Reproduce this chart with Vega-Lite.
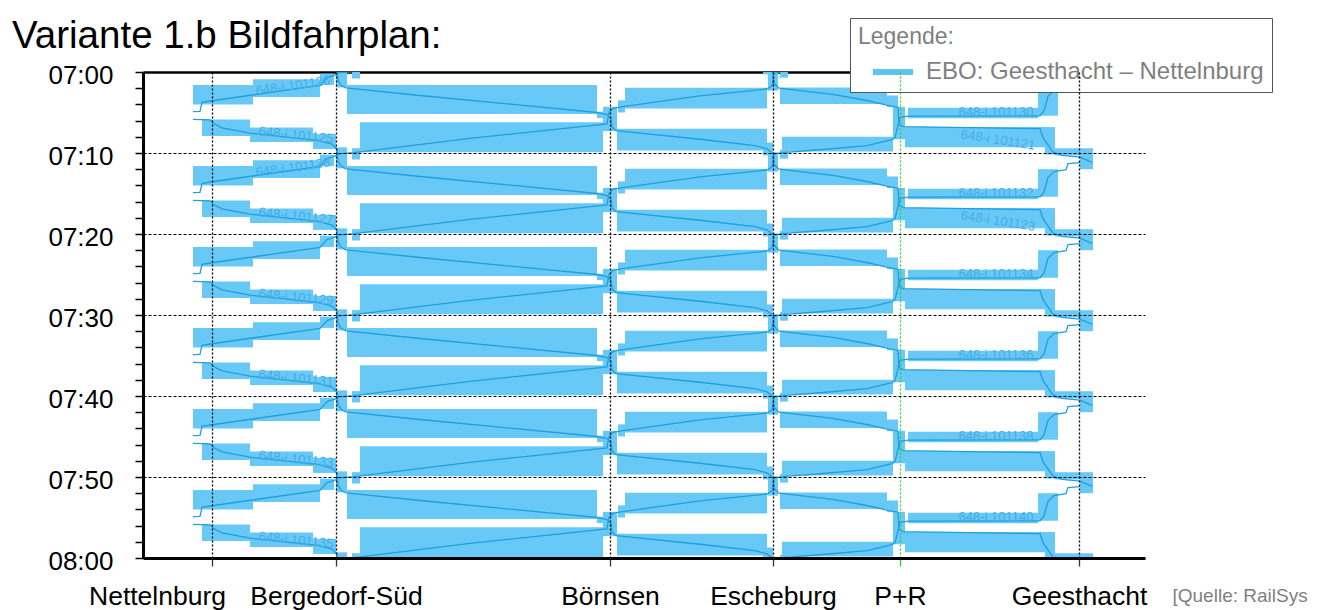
{
 "$schema": "https://vega.github.io/schema/vega-lite/v6.json",
 "width": 1002,
 "height": 486,
 "autosize": {"type": "none"},
 "padding": {"left": 143, "top": 72, "right": 175, "bottom": 52},
 "background": "white",
 "config": {"font": "Liberation Sans", "view": {"stroke": null}},
 "title": {"text": "Variante 1.b Bildfahrplan:", "anchor": "start", "frame": "group", "dx": -131, "fontSize": 38.5, "fontWeight": "normal", "color": "black", "font": "Liberation Sans", "baseline": "alphabetic", "offset": -69},
 "datasets": {
  "blocks": [
   {"x1":352,"x2":360,"t1":-0.6,"t2":0.8},{"x1":763,"x2":773,"t1":-1.3,"t2":0.3},{"x1":780,"x2":788,"t1":-0.4,"t2":0.7},{"x1":1045,"x2":1055,"t1":-3.2,"t2":0.2},{"x1":1055,"x2":1093,"t1":-0.6,"t2":0.3},

   {"x1":193,"x2":253,"t1":1.6,"t2":4.0},{"x1":253,"x2":320,"t1":0.9,"t2":3.1},{"x1":320,"x2":334,"t1":0.2,"t2":1.6},{"x1":202,"x2":250,"t1":5.85,"t2":7.9},{"x1":250,"x2":313,"t1":6.85,"t2":8.65},{"x1":313,"x2":336,"t1":7.65,"t2":9.5},{"x1":336,"x2":347,"t1":-0.7,"t2":1.9},
   {"x1":347,"x2":597,"t1":1.6,"t2":5.2},{"x1":597,"x2":607,"t1":4.9,"t2":5.7},{"x1":360,"x2":603,"t1":6.2,"t2":9.9},{"x1":352,"x2":360,"t1":9.4,"t2":10.8},{"x1":603,"x2":617,"t1":4.3,"t2":7.3},
   {"x1":625,"x2":767,"t1":1.95,"t2":4.5},{"x1":618,"x2":625,"t1":3.5,"t2":5.0},{"x1":617,"x2":767,"t1":7.0,"t2":9.7},{"x1":763,"x2":773,"t1":8.7,"t2":10.3},{"x1":768,"x2":778,"t1":-0.1,"t2":2.3},
   {"x1":780,"x2":887,"t1":1.9,"t2":3.95},{"x1":887,"x2":898,"t1":2.9,"t2":4.35},{"x1":782,"x2":893,"t1":8.0,"t2":9.8},{"x1":780,"x2":788,"t1":9.6,"t2":10.7},{"x1":893,"x2":905,"t1":4.3,"t2":8.3},
   {"x1":908,"x2":1038,"t1":4.4,"t2":5.7},{"x1":1038,"x2":1058,"t1":2.0,"t2":5.4},{"x1":905,"x2":1045,"t1":6.8,"t2":9.3},{"x1":1045,"x2":1055,"t1":6.8,"t2":10.2},{"x1":1055,"x2":1093,"t1":9.4,"t2":10.3},{"x1":1080,"x2":1093,"t1":-0.5,"t2":2.0},

   {"x1":193,"x2":253,"t1":11.6,"t2":14.0},{"x1":253,"x2":320,"t1":10.9,"t2":13.1},{"x1":320,"x2":334,"t1":10.2,"t2":11.6},{"x1":202,"x2":250,"t1":15.85,"t2":17.9},{"x1":250,"x2":313,"t1":16.85,"t2":18.65},{"x1":313,"x2":336,"t1":17.65,"t2":19.5},{"x1":336,"x2":347,"t1":9.3,"t2":11.9},
   {"x1":347,"x2":597,"t1":11.6,"t2":15.2},{"x1":597,"x2":607,"t1":14.9,"t2":15.7},{"x1":360,"x2":603,"t1":16.2,"t2":19.9},{"x1":352,"x2":360,"t1":19.4,"t2":20.8},{"x1":603,"x2":617,"t1":14.3,"t2":17.3},
   {"x1":625,"x2":767,"t1":11.95,"t2":14.5},{"x1":618,"x2":625,"t1":13.5,"t2":15.0},{"x1":617,"x2":767,"t1":17.0,"t2":19.7},{"x1":763,"x2":773,"t1":18.7,"t2":20.3},{"x1":768,"x2":778,"t1":9.9,"t2":12.3},
   {"x1":780,"x2":887,"t1":11.9,"t2":13.95},{"x1":887,"x2":898,"t1":12.9,"t2":14.35},{"x1":782,"x2":893,"t1":18.0,"t2":19.8},{"x1":780,"x2":788,"t1":19.6,"t2":20.7},{"x1":893,"x2":905,"t1":14.3,"t2":18.3},
   {"x1":908,"x2":1038,"t1":14.4,"t2":15.7},{"x1":1038,"x2":1058,"t1":12.0,"t2":15.4},{"x1":905,"x2":1045,"t1":16.8,"t2":19.3},{"x1":1045,"x2":1055,"t1":16.8,"t2":20.2},{"x1":1055,"x2":1093,"t1":19.4,"t2":20.3},{"x1":1080,"x2":1093,"t1":9.5,"t2":12.0},

   {"x1":193,"x2":253,"t1":21.6,"t2":24.0},{"x1":253,"x2":320,"t1":20.9,"t2":23.1},{"x1":320,"x2":334,"t1":20.2,"t2":21.6},{"x1":202,"x2":250,"t1":25.85,"t2":27.9},{"x1":250,"x2":313,"t1":26.85,"t2":28.65},{"x1":313,"x2":336,"t1":27.65,"t2":29.5},{"x1":336,"x2":347,"t1":19.3,"t2":21.9},
   {"x1":347,"x2":597,"t1":21.6,"t2":25.2},{"x1":597,"x2":607,"t1":24.9,"t2":25.7},{"x1":360,"x2":603,"t1":26.2,"t2":29.9},{"x1":352,"x2":360,"t1":29.4,"t2":30.8},{"x1":603,"x2":617,"t1":24.3,"t2":27.3},
   {"x1":625,"x2":767,"t1":21.95,"t2":24.5},{"x1":618,"x2":625,"t1":23.5,"t2":25.0},{"x1":617,"x2":767,"t1":27.0,"t2":29.7},{"x1":763,"x2":773,"t1":28.7,"t2":30.3},{"x1":768,"x2":778,"t1":19.9,"t2":22.3},
   {"x1":780,"x2":887,"t1":21.9,"t2":23.95},{"x1":887,"x2":898,"t1":22.9,"t2":24.35},{"x1":782,"x2":893,"t1":28.0,"t2":29.8},{"x1":780,"x2":788,"t1":29.6,"t2":30.7},{"x1":893,"x2":905,"t1":24.3,"t2":28.3},
   {"x1":908,"x2":1038,"t1":24.4,"t2":25.7},{"x1":1038,"x2":1058,"t1":22.0,"t2":25.4},{"x1":905,"x2":1045,"t1":26.8,"t2":29.3},{"x1":1045,"x2":1055,"t1":26.8,"t2":30.2},{"x1":1055,"x2":1093,"t1":29.4,"t2":30.3},{"x1":1080,"x2":1093,"t1":19.5,"t2":22.0},

   {"x1":193,"x2":253,"t1":31.6,"t2":34.0},{"x1":253,"x2":320,"t1":30.9,"t2":33.1},{"x1":320,"x2":334,"t1":30.2,"t2":31.6},{"x1":202,"x2":250,"t1":35.85,"t2":37.9},{"x1":250,"x2":313,"t1":36.85,"t2":38.65},{"x1":313,"x2":336,"t1":37.65,"t2":39.5},{"x1":336,"x2":347,"t1":29.3,"t2":31.9},
   {"x1":347,"x2":597,"t1":31.6,"t2":35.2},{"x1":597,"x2":607,"t1":34.9,"t2":35.7},{"x1":360,"x2":603,"t1":36.2,"t2":39.9},{"x1":352,"x2":360,"t1":39.4,"t2":40.8},{"x1":603,"x2":617,"t1":34.3,"t2":37.3},
   {"x1":625,"x2":767,"t1":31.95,"t2":34.5},{"x1":618,"x2":625,"t1":33.5,"t2":35.0},{"x1":617,"x2":767,"t1":37.0,"t2":39.7},{"x1":763,"x2":773,"t1":38.7,"t2":40.3},{"x1":768,"x2":778,"t1":29.9,"t2":32.3},
   {"x1":780,"x2":887,"t1":31.9,"t2":33.95},{"x1":887,"x2":898,"t1":32.9,"t2":34.35},{"x1":782,"x2":893,"t1":38.0,"t2":39.8},{"x1":780,"x2":788,"t1":39.6,"t2":40.7},{"x1":893,"x2":905,"t1":34.3,"t2":38.3},
   {"x1":908,"x2":1038,"t1":34.4,"t2":35.7},{"x1":1038,"x2":1058,"t1":32.0,"t2":35.4},{"x1":905,"x2":1045,"t1":36.8,"t2":39.3},{"x1":1045,"x2":1055,"t1":36.8,"t2":40.2},{"x1":1055,"x2":1093,"t1":39.4,"t2":40.3},{"x1":1080,"x2":1093,"t1":29.5,"t2":32.0},

   {"x1":193,"x2":253,"t1":41.6,"t2":44.0},{"x1":253,"x2":320,"t1":40.9,"t2":43.1},{"x1":320,"x2":334,"t1":40.2,"t2":41.6},{"x1":202,"x2":250,"t1":45.85,"t2":47.9},{"x1":250,"x2":313,"t1":46.85,"t2":48.65},{"x1":313,"x2":336,"t1":47.65,"t2":49.5},{"x1":336,"x2":347,"t1":39.3,"t2":41.9},
   {"x1":347,"x2":597,"t1":41.6,"t2":45.2},{"x1":597,"x2":607,"t1":44.9,"t2":45.7},{"x1":360,"x2":603,"t1":46.2,"t2":49.9},{"x1":352,"x2":360,"t1":49.4,"t2":50.8},{"x1":603,"x2":617,"t1":44.3,"t2":47.3},
   {"x1":625,"x2":767,"t1":41.95,"t2":44.5},{"x1":618,"x2":625,"t1":43.5,"t2":45.0},{"x1":617,"x2":767,"t1":47.0,"t2":49.7},{"x1":763,"x2":773,"t1":48.7,"t2":50.3},{"x1":768,"x2":778,"t1":39.9,"t2":42.3},
   {"x1":780,"x2":887,"t1":41.9,"t2":43.95},{"x1":887,"x2":898,"t1":42.9,"t2":44.35},{"x1":782,"x2":893,"t1":48.0,"t2":49.8},{"x1":780,"x2":788,"t1":49.6,"t2":50.7},{"x1":893,"x2":905,"t1":44.3,"t2":48.3},
   {"x1":908,"x2":1038,"t1":44.4,"t2":45.7},{"x1":1038,"x2":1058,"t1":42.0,"t2":45.4},{"x1":905,"x2":1045,"t1":46.8,"t2":49.3},{"x1":1045,"x2":1055,"t1":46.8,"t2":50.2},{"x1":1055,"x2":1093,"t1":49.4,"t2":50.3},{"x1":1080,"x2":1093,"t1":39.5,"t2":42.0},

   {"x1":193,"x2":253,"t1":51.6,"t2":54.0},{"x1":253,"x2":320,"t1":50.9,"t2":53.1},{"x1":320,"x2":334,"t1":50.2,"t2":51.6},{"x1":202,"x2":250,"t1":55.85,"t2":57.9},{"x1":250,"x2":313,"t1":56.85,"t2":58.65},{"x1":313,"x2":336,"t1":57.65,"t2":59.5},{"x1":336,"x2":347,"t1":49.3,"t2":51.9},
   {"x1":347,"x2":597,"t1":51.6,"t2":55.2},{"x1":597,"x2":607,"t1":54.9,"t2":55.7},{"x1":360,"x2":603,"t1":56.2,"t2":59.9},{"x1":352,"x2":360,"t1":59.4,"t2":60.8},{"x1":603,"x2":617,"t1":54.3,"t2":57.3},
   {"x1":625,"x2":767,"t1":51.95,"t2":54.5},{"x1":618,"x2":625,"t1":53.5,"t2":55.0},{"x1":617,"x2":767,"t1":57.0,"t2":59.7},{"x1":763,"x2":773,"t1":58.7,"t2":60.3},{"x1":768,"x2":778,"t1":49.9,"t2":52.3},
   {"x1":780,"x2":887,"t1":51.9,"t2":53.95},{"x1":887,"x2":898,"t1":52.9,"t2":54.35},{"x1":782,"x2":893,"t1":58.0,"t2":59.8},{"x1":780,"x2":788,"t1":59.6,"t2":60.7},{"x1":893,"x2":905,"t1":54.3,"t2":58.3},
   {"x1":908,"x2":1038,"t1":54.4,"t2":55.7},{"x1":1038,"x2":1058,"t1":52.0,"t2":55.4},{"x1":905,"x2":1045,"t1":56.8,"t2":59.3},{"x1":1045,"x2":1055,"t1":56.8,"t2":60.2},{"x1":1055,"x2":1093,"t1":59.4,"t2":60.3},{"x1":1080,"x2":1093,"t1":49.5,"t2":52.0},

   {"x1":336,"x2":347,"t1":59.3,"t2":61.9},{"x1":768,"x2":778,"t1":59.9,"t2":62.3},{"x1":1080,"x2":1093,"t1":59.5,"t2":62.0}
  ],
  "paths": [
   {"id":"E-30","x":1043,"t":-1.9},{"id":"E-30","x":1053,"t":-0.1},{"id":"E-30","x":1062,"t":0.3},{"id":"E-30","x":1080,"t":0.5},{"id":"E-30","x":1092,"t":1.15},

   {"id":"E-20","x":767,"t":-0.5},{"id":"E-20","x":773,"t":0.1},{"id":"E-20","x":774,"t":1.4},{"id":"E-20","x":779,"t":2.0},{"id":"E-20","x":833,"t":2.75},{"id":"E-20","x":868,"t":3.55},{"id":"E-20","x":889,"t":4.15},{"id":"E-20","x":898,"t":4.35},{"id":"E-20","x":899,"t":6.5},{"id":"E-20","x":903,"t":6.75},{"id":"E-20","x":1040,"t":7.0},{"id":"E-20","x":1043,"t":8.1},{"id":"E-20","x":1053,"t":9.9},{"id":"E-20","x":1062,"t":10.3},{"id":"E-20","x":1080,"t":10.5},{"id":"E-20","x":1092,"t":11.15},

   {"id":"E-10","x":337,"t":-0.45},{"id":"E-10","x":338,"t":1.0},{"id":"E-10","x":341,"t":1.65},{"id":"E-10","x":346,"t":1.95},{"id":"E-10","x":420,"t":2.9},{"id":"E-10","x":597,"t":5.0},{"id":"E-10","x":607,"t":5.25},{"id":"E-10","x":611,"t":5.7},{"id":"E-10","x":612,"t":6.8},{"id":"E-10","x":616,"t":7.25},{"id":"E-10","x":700,"t":8.3},{"id":"E-10","x":755,"t":9.1},{"id":"E-10","x":767,"t":9.5},{"id":"E-10","x":773,"t":10.1},{"id":"E-10","x":774,"t":11.4},{"id":"E-10","x":779,"t":12.0},{"id":"E-10","x":833,"t":12.75},{"id":"E-10","x":868,"t":13.55},{"id":"E-10","x":889,"t":14.15},{"id":"E-10","x":898,"t":14.35},{"id":"E-10","x":899,"t":16.5},{"id":"E-10","x":903,"t":16.75},{"id":"E-10","x":1040,"t":17.0},{"id":"E-10","x":1043,"t":18.1},{"id":"E-10","x":1053,"t":19.9},{"id":"E-10","x":1062,"t":20.3},{"id":"E-10","x":1080,"t":20.5},{"id":"E-10","x":1092,"t":21.15},

   {"id":"E0","x":193,"t":5.85},{"id":"E0","x":210,"t":5.9},{"id":"E0","x":214,"t":6.4},{"id":"E0","x":222,"t":6.9},{"id":"E0","x":250,"t":7.55},{"id":"E0","x":318,"t":8.45},{"id":"E0","x":332,"t":8.9},{"id":"E0","x":337,"t":9.55},{"id":"E0","x":338,"t":11.0},{"id":"E0","x":341,"t":11.65},{"id":"E0","x":346,"t":11.95},{"id":"E0","x":420,"t":12.9},{"id":"E0","x":597,"t":15.0},{"id":"E0","x":607,"t":15.25},{"id":"E0","x":611,"t":15.7},{"id":"E0","x":612,"t":16.8},{"id":"E0","x":616,"t":17.25},{"id":"E0","x":700,"t":18.3},{"id":"E0","x":755,"t":19.1},{"id":"E0","x":767,"t":19.5},{"id":"E0","x":773,"t":20.1},{"id":"E0","x":774,"t":21.4},{"id":"E0","x":779,"t":22.0},{"id":"E0","x":833,"t":22.75},{"id":"E0","x":868,"t":23.55},{"id":"E0","x":889,"t":24.15},{"id":"E0","x":898,"t":24.35},{"id":"E0","x":899,"t":26.5},{"id":"E0","x":903,"t":26.75},{"id":"E0","x":1040,"t":27.0},{"id":"E0","x":1043,"t":28.1},{"id":"E0","x":1053,"t":29.9},{"id":"E0","x":1062,"t":30.3},{"id":"E0","x":1080,"t":30.5},{"id":"E0","x":1092,"t":31.15},

   {"id":"E10","x":193,"t":15.85},{"id":"E10","x":210,"t":15.9},{"id":"E10","x":214,"t":16.4},{"id":"E10","x":222,"t":16.9},{"id":"E10","x":250,"t":17.55},{"id":"E10","x":318,"t":18.45},{"id":"E10","x":332,"t":18.9},{"id":"E10","x":337,"t":19.55},{"id":"E10","x":338,"t":21.0},{"id":"E10","x":341,"t":21.65},{"id":"E10","x":346,"t":21.95},{"id":"E10","x":420,"t":22.9},{"id":"E10","x":597,"t":25.0},{"id":"E10","x":607,"t":25.25},{"id":"E10","x":611,"t":25.7},{"id":"E10","x":612,"t":26.8},{"id":"E10","x":616,"t":27.25},{"id":"E10","x":700,"t":28.3},{"id":"E10","x":755,"t":29.1},{"id":"E10","x":767,"t":29.5},{"id":"E10","x":773,"t":30.1},{"id":"E10","x":774,"t":31.4},{"id":"E10","x":779,"t":32.0},{"id":"E10","x":833,"t":32.75},{"id":"E10","x":868,"t":33.55},{"id":"E10","x":889,"t":34.15},{"id":"E10","x":898,"t":34.35},{"id":"E10","x":899,"t":36.5},{"id":"E10","x":903,"t":36.75},{"id":"E10","x":1040,"t":37.0},{"id":"E10","x":1043,"t":38.1},{"id":"E10","x":1053,"t":39.9},{"id":"E10","x":1062,"t":40.3},{"id":"E10","x":1080,"t":40.5},{"id":"E10","x":1092,"t":41.15},

   {"id":"E20","x":193,"t":25.85},{"id":"E20","x":210,"t":25.9},{"id":"E20","x":214,"t":26.4},{"id":"E20","x":222,"t":26.9},{"id":"E20","x":250,"t":27.55},{"id":"E20","x":318,"t":28.45},{"id":"E20","x":332,"t":28.9},{"id":"E20","x":337,"t":29.55},{"id":"E20","x":338,"t":31.0},{"id":"E20","x":341,"t":31.65},{"id":"E20","x":346,"t":31.95},{"id":"E20","x":420,"t":32.9},{"id":"E20","x":597,"t":35.0},{"id":"E20","x":607,"t":35.25},{"id":"E20","x":611,"t":35.7},{"id":"E20","x":612,"t":36.8},{"id":"E20","x":616,"t":37.25},{"id":"E20","x":700,"t":38.3},{"id":"E20","x":755,"t":39.1},{"id":"E20","x":767,"t":39.5},{"id":"E20","x":773,"t":40.1},{"id":"E20","x":774,"t":41.4},{"id":"E20","x":779,"t":42.0},{"id":"E20","x":833,"t":42.75},{"id":"E20","x":868,"t":43.55},{"id":"E20","x":889,"t":44.15},{"id":"E20","x":898,"t":44.35},{"id":"E20","x":899,"t":46.5},{"id":"E20","x":903,"t":46.75},{"id":"E20","x":1040,"t":47.0},{"id":"E20","x":1043,"t":48.1},{"id":"E20","x":1053,"t":49.9},{"id":"E20","x":1062,"t":50.3},{"id":"E20","x":1080,"t":50.5},{"id":"E20","x":1092,"t":51.15},

   {"id":"E30","x":193,"t":35.85},{"id":"E30","x":210,"t":35.9},{"id":"E30","x":214,"t":36.4},{"id":"E30","x":222,"t":36.9},{"id":"E30","x":250,"t":37.55},{"id":"E30","x":318,"t":38.45},{"id":"E30","x":332,"t":38.9},{"id":"E30","x":337,"t":39.55},{"id":"E30","x":338,"t":41.0},{"id":"E30","x":341,"t":41.65},{"id":"E30","x":346,"t":41.95},{"id":"E30","x":420,"t":42.9},{"id":"E30","x":597,"t":45.0},{"id":"E30","x":607,"t":45.25},{"id":"E30","x":611,"t":45.7},{"id":"E30","x":612,"t":46.8},{"id":"E30","x":616,"t":47.25},{"id":"E30","x":700,"t":48.3},{"id":"E30","x":755,"t":49.1},{"id":"E30","x":767,"t":49.5},{"id":"E30","x":773,"t":50.1},{"id":"E30","x":774,"t":51.4},{"id":"E30","x":779,"t":52.0},{"id":"E30","x":833,"t":52.75},{"id":"E30","x":868,"t":53.55},{"id":"E30","x":889,"t":54.15},{"id":"E30","x":898,"t":54.35},{"id":"E30","x":899,"t":56.5},{"id":"E30","x":903,"t":56.75},{"id":"E30","x":1040,"t":57.0},{"id":"E30","x":1043,"t":58.1},{"id":"E30","x":1053,"t":59.9},{"id":"E30","x":1062,"t":60.3},

   {"id":"E40","x":193,"t":45.85},{"id":"E40","x":210,"t":45.9},{"id":"E40","x":214,"t":46.4},{"id":"E40","x":222,"t":46.9},{"id":"E40","x":250,"t":47.55},{"id":"E40","x":318,"t":48.45},{"id":"E40","x":332,"t":48.9},{"id":"E40","x":337,"t":49.55},{"id":"E40","x":338,"t":51.0},{"id":"E40","x":341,"t":51.65},{"id":"E40","x":346,"t":51.95},{"id":"E40","x":420,"t":52.9},{"id":"E40","x":597,"t":55.0},{"id":"E40","x":607,"t":55.25},{"id":"E40","x":611,"t":55.7},{"id":"E40","x":612,"t":56.8},{"id":"E40","x":616,"t":57.25},{"id":"E40","x":700,"t":58.3},{"id":"E40","x":755,"t":59.1},{"id":"E40","x":767,"t":59.5},{"id":"E40","x":773,"t":60.1},

   {"id":"E50","x":193,"t":55.85},{"id":"E50","x":210,"t":55.9},{"id":"E50","x":214,"t":56.4},{"id":"E50","x":222,"t":56.9},{"id":"E50","x":250,"t":57.55},{"id":"E50","x":318,"t":58.45},{"id":"E50","x":332,"t":58.9},{"id":"E50","x":337,"t":59.55},{"id":"E50","x":338,"t":61.0},

   {"id":"W-50","x":354,"t":-0.05},{"id":"W-50","x":338,"t":0.1},{"id":"W-50","x":335,"t":0.4},{"id":"W-50","x":327,"t":0.7},{"id":"W-50","x":320,"t":1.65},{"id":"W-50","x":212,"t":3.55},{"id":"W-50","x":202,"t":3.75},{"id":"W-50","x":200,"t":4.85},{"id":"W-50","x":193,"t":4.9},

   {"id":"W-40","x":782,"t":-0.05},{"id":"W-40","x":774,"t":0.15},{"id":"W-40","x":772,"t":1.7},{"id":"W-40","x":767,"t":2.1},{"id":"W-40","x":700,"t":2.95},{"id":"W-40","x":621,"t":4.3},{"id":"W-40","x":613,"t":4.5},{"id":"W-40","x":609,"t":5.0},{"id":"W-40","x":607,"t":6.4},{"id":"W-40","x":470,"t":8.2},{"id":"W-40","x":360,"t":9.85},{"id":"W-40","x":354,"t":9.95},{"id":"W-40","x":338,"t":10.1},{"id":"W-40","x":335,"t":10.4},{"id":"W-40","x":327,"t":10.7},{"id":"W-40","x":320,"t":11.65},{"id":"W-40","x":212,"t":13.55},{"id":"W-40","x":202,"t":13.75},{"id":"W-40","x":200,"t":14.85},{"id":"W-40","x":193,"t":14.9},

   {"id":"W-30","x":1080,"t":1.2},{"id":"W-30","x":1068,"t":1.3},{"id":"W-30","x":1066,"t":2.05},{"id":"W-30","x":1054,"t":2.3},{"id":"W-30","x":1048,"t":3.0},{"id":"W-30","x":1044,"t":4.8},{"id":"W-30","x":1040,"t":5.4},{"id":"W-30","x":908,"t":5.45},{"id":"W-30","x":900,"t":5.6},{"id":"W-30","x":898,"t":6.6},{"id":"W-30","x":895,"t":8.1},{"id":"W-30","x":892,"t":8.35},{"id":"W-30","x":867,"t":9.1},{"id":"W-30","x":820,"t":9.6},{"id":"W-30","x":782,"t":9.95},{"id":"W-30","x":774,"t":10.15},{"id":"W-30","x":772,"t":11.7},{"id":"W-30","x":767,"t":12.1},{"id":"W-30","x":700,"t":12.95},{"id":"W-30","x":621,"t":14.3},{"id":"W-30","x":613,"t":14.5},{"id":"W-30","x":609,"t":15.0},{"id":"W-30","x":607,"t":16.4},{"id":"W-30","x":470,"t":18.2},{"id":"W-30","x":360,"t":19.85},{"id":"W-30","x":354,"t":19.95},{"id":"W-30","x":338,"t":20.1},{"id":"W-30","x":335,"t":20.4},{"id":"W-30","x":327,"t":20.7},{"id":"W-30","x":320,"t":21.65},{"id":"W-30","x":212,"t":23.55},{"id":"W-30","x":202,"t":23.75},{"id":"W-30","x":200,"t":24.85},{"id":"W-30","x":193,"t":24.9},

   {"id":"W-20","x":1080,"t":11.2},{"id":"W-20","x":1068,"t":11.3},{"id":"W-20","x":1066,"t":12.05},{"id":"W-20","x":1054,"t":12.3},{"id":"W-20","x":1048,"t":13.0},{"id":"W-20","x":1044,"t":14.8},{"id":"W-20","x":1040,"t":15.4},{"id":"W-20","x":908,"t":15.45},{"id":"W-20","x":900,"t":15.6},{"id":"W-20","x":898,"t":16.6},{"id":"W-20","x":895,"t":18.1},{"id":"W-20","x":892,"t":18.35},{"id":"W-20","x":867,"t":19.1},{"id":"W-20","x":820,"t":19.6},{"id":"W-20","x":782,"t":19.95},{"id":"W-20","x":774,"t":20.15},{"id":"W-20","x":772,"t":21.7},{"id":"W-20","x":767,"t":22.1},{"id":"W-20","x":700,"t":22.95},{"id":"W-20","x":621,"t":24.3},{"id":"W-20","x":613,"t":24.5},{"id":"W-20","x":609,"t":25.0},{"id":"W-20","x":607,"t":26.4},{"id":"W-20","x":470,"t":28.2},{"id":"W-20","x":360,"t":29.85},{"id":"W-20","x":354,"t":29.95},{"id":"W-20","x":338,"t":30.1},{"id":"W-20","x":335,"t":30.4},{"id":"W-20","x":327,"t":30.7},{"id":"W-20","x":320,"t":31.65},{"id":"W-20","x":212,"t":33.55},{"id":"W-20","x":202,"t":33.75},{"id":"W-20","x":200,"t":34.85},{"id":"W-20","x":193,"t":34.9},

   {"id":"W-10","x":1080,"t":21.2},{"id":"W-10","x":1068,"t":21.3},{"id":"W-10","x":1066,"t":22.05},{"id":"W-10","x":1054,"t":22.3},{"id":"W-10","x":1048,"t":23.0},{"id":"W-10","x":1044,"t":24.8},{"id":"W-10","x":1040,"t":25.4},{"id":"W-10","x":908,"t":25.45},{"id":"W-10","x":900,"t":25.6},{"id":"W-10","x":898,"t":26.6},{"id":"W-10","x":895,"t":28.1},{"id":"W-10","x":892,"t":28.35},{"id":"W-10","x":867,"t":29.1},{"id":"W-10","x":820,"t":29.6},{"id":"W-10","x":782,"t":29.95},{"id":"W-10","x":774,"t":30.15},{"id":"W-10","x":772,"t":31.7},{"id":"W-10","x":767,"t":32.1},{"id":"W-10","x":700,"t":32.95},{"id":"W-10","x":621,"t":34.3},{"id":"W-10","x":613,"t":34.5},{"id":"W-10","x":609,"t":35.0},{"id":"W-10","x":607,"t":36.4},{"id":"W-10","x":470,"t":38.2},{"id":"W-10","x":360,"t":39.85},{"id":"W-10","x":354,"t":39.95},{"id":"W-10","x":338,"t":40.1},{"id":"W-10","x":335,"t":40.4},{"id":"W-10","x":327,"t":40.7},{"id":"W-10","x":320,"t":41.65},{"id":"W-10","x":212,"t":43.55},{"id":"W-10","x":202,"t":43.75},{"id":"W-10","x":200,"t":44.85},{"id":"W-10","x":193,"t":44.9},

   {"id":"W0","x":1080,"t":31.2},{"id":"W0","x":1068,"t":31.3},{"id":"W0","x":1066,"t":32.05},{"id":"W0","x":1054,"t":32.3},{"id":"W0","x":1048,"t":33.0},{"id":"W0","x":1044,"t":34.8},{"id":"W0","x":1040,"t":35.4},{"id":"W0","x":908,"t":35.45},{"id":"W0","x":900,"t":35.6},{"id":"W0","x":898,"t":36.6},{"id":"W0","x":895,"t":38.1},{"id":"W0","x":892,"t":38.35},{"id":"W0","x":867,"t":39.1},{"id":"W0","x":820,"t":39.6},{"id":"W0","x":782,"t":39.95},{"id":"W0","x":774,"t":40.15},{"id":"W0","x":772,"t":41.7},{"id":"W0","x":767,"t":42.1},{"id":"W0","x":700,"t":42.95},{"id":"W0","x":621,"t":44.3},{"id":"W0","x":613,"t":44.5},{"id":"W0","x":609,"t":45.0},{"id":"W0","x":607,"t":46.4},{"id":"W0","x":470,"t":48.2},{"id":"W0","x":360,"t":49.85},{"id":"W0","x":354,"t":49.95},{"id":"W0","x":338,"t":50.1},{"id":"W0","x":335,"t":50.4},{"id":"W0","x":327,"t":50.7},{"id":"W0","x":320,"t":51.65},{"id":"W0","x":212,"t":53.55},{"id":"W0","x":202,"t":53.75},{"id":"W0","x":200,"t":54.85},{"id":"W0","x":193,"t":54.9},

   {"id":"W10","x":1080,"t":41.2},{"id":"W10","x":1068,"t":41.3},{"id":"W10","x":1066,"t":42.05},{"id":"W10","x":1054,"t":42.3},{"id":"W10","x":1048,"t":43.0},{"id":"W10","x":1044,"t":44.8},{"id":"W10","x":1040,"t":45.4},{"id":"W10","x":908,"t":45.45},{"id":"W10","x":900,"t":45.6},{"id":"W10","x":898,"t":46.6},{"id":"W10","x":895,"t":48.1},{"id":"W10","x":892,"t":48.35},{"id":"W10","x":867,"t":49.1},{"id":"W10","x":820,"t":49.6},{"id":"W10","x":782,"t":49.95},{"id":"W10","x":774,"t":50.15},{"id":"W10","x":772,"t":51.7},{"id":"W10","x":767,"t":52.1},{"id":"W10","x":700,"t":52.95},{"id":"W10","x":621,"t":54.3},{"id":"W10","x":613,"t":54.5},{"id":"W10","x":609,"t":55.0},{"id":"W10","x":607,"t":56.4},{"id":"W10","x":470,"t":58.2},{"id":"W10","x":360,"t":59.85},{"id":"W10","x":354,"t":59.95},{"id":"W10","x":338,"t":60.1},

   {"id":"W20","x":1080,"t":51.2},{"id":"W20","x":1068,"t":51.3},{"id":"W20","x":1066,"t":52.05},{"id":"W20","x":1054,"t":52.3},{"id":"W20","x":1048,"t":53.0},{"id":"W20","x":1044,"t":54.8},{"id":"W20","x":1040,"t":55.4},{"id":"W20","x":908,"t":55.45},{"id":"W20","x":900,"t":55.6},{"id":"W20","x":898,"t":56.6},{"id":"W20","x":895,"t":58.1},{"id":"W20","x":892,"t":58.35},{"id":"W20","x":867,"t":59.1},{"id":"W20","x":820,"t":59.6},{"id":"W20","x":782,"t":59.95},{"id":"W20","x":774,"t":60.15}
  ],
  "labels": [
   {"k":"WNB","x":293,"t":1.7,"txt":"648-i 101126"},{"k":"WNB","x":293,"t":11.8,"txt":"648-i 101128"},
   {"k":"ENB","x":296,"t":7.8,"txt":"648-i 101125"},{"k":"ENB","x":296,"t":17.8,"txt":"648-i 101127"},{"k":"ENB","x":296,"t":27.8,"txt":"648-i 101129"},{"k":"ENB","x":296,"t":37.8,"txt":"648-i 101131"},{"k":"ENB","x":296,"t":47.8,"txt":"648-i 101133"},{"k":"ENB","x":296,"t":57.8,"txt":"648-i 101135"},
   {"k":"WPG","x":996,"t":4.9,"txt":"648-i 101130"},{"k":"WPG","x":996,"t":14.9,"txt":"648-i 101132"},{"k":"WPG","x":996,"t":24.9,"txt":"648-i 101134"},{"k":"WPG","x":996,"t":34.9,"txt":"648-i 101136"},{"k":"WPG","x":996,"t":44.9,"txt":"648-i 101138"},{"k":"WPG","x":996,"t":54.9,"txt":"648-i 101140"},
   {"k":"EPG","x":998,"t":8.4,"txt":"648-i 101121"},{"k":"EPG","x":998,"t":18.4,"txt":"648-i 101123"}
  ]
 },
 "layer": [
  {
   "data": {"name": "blocks"},
   "mark": {"type": "rect", "color": "#68c9f7", "clip": true},
   "encoding": {
    "x": {"field": "x1", "type": "quantitative", "scale": {"domain": [143, 1145], "nice": false, "zero": false},
     "axis": {"orient": "bottom", "values": [212, 336, 610, 773, 900, 1079],
      "labelExpr": "datum.value == 212 ? 'Nettelnburg' : datum.value == 336 ? 'Bergedorf-Süd' : datum.value == 610 ? 'Börnsen' : datum.value == 773 ? 'Escheburg' : datum.value == 900 ? 'P+R' : 'Geesthacht'",
      "grid": true, "gridColor": {"condition": {"test": "datum.value == 900", "value": "#33cc33"}, "value": "#000000"}, "gridDash": [2, 2], "gridWidth": 1.3,
      "ticks": true, "tickSize": 8, "tickWidth": 1.3, "tickColor": {"condition": {"test": "datum.value == 900", "value": "#33cc33"}, "value": "#333333"},
      "domain": true, "domainColor": "black", "domainWidth": 3,
      "labelFontSize": 26.5, "labelColor": "black", "labelPadding": 17, "labelOverlap": false, "labelFlush": false, "labelBound": false,
      "labelOffset": {"condition": {"test": "datum.value == 212", "value": -55}, "value": 0},
      "title": "[Quelle: RailSys", "titleX": 1029, "titleY": 37, "titleAlign": "left", "titleBaseline": "middle", "titleFontSize": 19, "titleFontWeight": "normal", "titleColor": "#7f7f7f",
      "zindex": 1}},
    "x2": {"field": "x2"},
    "y": {"field": "t1", "type": "quantitative", "scale": {"domain": [0, 60], "reverse": true, "nice": false, "zero": false},
     "axis": {"orient": "left", "values": [0, 2, 4, 6, 8, 10, 12, 14, 16, 18, 20, 22, 24, 26, 28, 30, 32, 34, 36, 38, 40, 42, 44, 46, 48, 50, 52, 54, 56, 58, 60],
      "labelExpr": "datum.value % 10 == 0 ? (datum.value == 60 ? '08:00' : '07:' + (datum.value < 10 ? '0' : '') + datum.value) : ''",
      "grid": true, "gridColor": "black", "gridDash": [3, 2], "gridWidth": 1,
      "gridOpacity": {"condition": {"test": "datum.value % 10 == 0 && datum.value > 0 && datum.value < 60", "value": 1}, "value": 0},
      "ticks": true, "tickSize": 8, "tickWidth": 1.5, "tickColor": "black",
      "domain": true, "domainColor": "black", "domainWidth": 3,
      "labelFontSize": 26, "labelColor": "black", "labelPadding": 22, "labelOffset": 3, "labelOverlap": false, "labelBound": false, "labelFlush": false,
      "title": null, "zindex": 1}},
    "y2": {"field": "t2"}
   }
  },
  {
   "data": {"name": "paths"},
   "mark": {"type": "line", "strokeWidth": 1.3, "clip": true, "color": "#1f9fdc"},
   "encoding": {
    "x": {"field": "x", "type": "quantitative", "scale": {"domain": [143, 1145], "nice": false, "zero": false},
     "axis": {"orient": "top", "labels": false, "ticks": false, "grid": false, "domain": true, "domainColor": "black", "domainWidth": 2.5, "title": null}},
    "y": {"field": "t", "type": "quantitative", "scale": {"domain": [0, 60], "reverse": true, "nice": false, "zero": false}, "axis": null},
    "detail": {"field": "id"},
    "order": {"field": "t"}
   }
  },
  {
   "data": {"name": "paths"},
   "transform": [{"filter": "datum.t > 1000"}],
   "mark": {"type": "line", "strokeWidth": 1.3, "clip": true},
   "encoding": {
    "x": {"field": "x", "type": "quantitative", "scale": {"domain": [143, 1145], "nice": false, "zero": false}, "axis": null},
    "y": {"field": "t", "type": "quantitative", "scale": {"domain": [0, 60], "reverse": true, "nice": false, "zero": false}, "axis": null},
    "color": {"datum": "EBO: Geesthacht – Nettelnburg", "scale": {"range": ["#5ec4f4"]},
     "legend": {"orient": "none", "legendX": 707, "legendY": -54, "title": "Legende:", "titleFontSize": 23, "titleFontWeight": "normal", "titleColor": "#7f7f7f", "titlePadding": 0, "titleLimit": 600,
      "labelFontSize": 24, "labelColor": "#7f7f7f", "labelLimit": 600, "symbolType": "stroke", "symbolSize": 1600, "symbolStrokeWidth": 6, "symbolOffset": 12, "labelOffset": 10,
      "padding": 8, "strokeColor": "#555555", "fillColor": "white"}}
   }
  },
  {
   "data": {"name": "labels"},
   "transform": [{"filter": "datum.k == 'WNB'"}],
   "mark": {"type": "text", "fontSize": 13, "color": "#45ade6", "angle": -8},
   "encoding": {
    "x": {"field": "x", "type": "quantitative", "scale": {"domain": [143, 1145], "nice": false, "zero": false}, "axis": null},
    "y": {"field": "t", "type": "quantitative", "scale": {"domain": [0, 60], "reverse": true, "nice": false, "zero": false}, "axis": null},
    "text": {"field": "txt"}
   }
  },
  {
   "data": {"name": "labels"},
   "transform": [{"filter": "datum.k == 'ENB'"}],
   "mark": {"type": "text", "fontSize": 13, "color": "#45ade6", "angle": 6},
   "encoding": {
    "x": {"field": "x", "type": "quantitative", "scale": {"domain": [143, 1145], "nice": false, "zero": false}, "axis": null},
    "y": {"field": "t", "type": "quantitative", "scale": {"domain": [0, 60], "reverse": true, "nice": false, "zero": false}, "axis": null},
    "text": {"field": "txt"}
   }
  },
  {
   "data": {"name": "labels"},
   "transform": [{"filter": "datum.k == 'WPG'"}],
   "mark": {"type": "text", "fontSize": 13, "color": "#45ade6", "angle": 0},
   "encoding": {
    "x": {"field": "x", "type": "quantitative", "scale": {"domain": [143, 1145], "nice": false, "zero": false}, "axis": null},
    "y": {"field": "t", "type": "quantitative", "scale": {"domain": [0, 60], "reverse": true, "nice": false, "zero": false}, "axis": null},
    "text": {"field": "txt"}
   }
  },
  {
   "data": {"name": "labels"},
   "transform": [{"filter": "datum.k == 'EPG'"}],
   "mark": {"type": "text", "fontSize": 13, "color": "#45ade6", "angle": 9},
   "encoding": {
    "x": {"field": "x", "type": "quantitative", "scale": {"domain": [143, 1145], "nice": false, "zero": false}, "axis": null},
    "y": {"field": "t", "type": "quantitative", "scale": {"domain": [0, 60], "reverse": true, "nice": false, "zero": false}, "axis": null},
    "text": {"field": "txt"}
   }
  }
 ],
 "resolve": {"axis": {"x": "independent", "y": "independent"}}
}
